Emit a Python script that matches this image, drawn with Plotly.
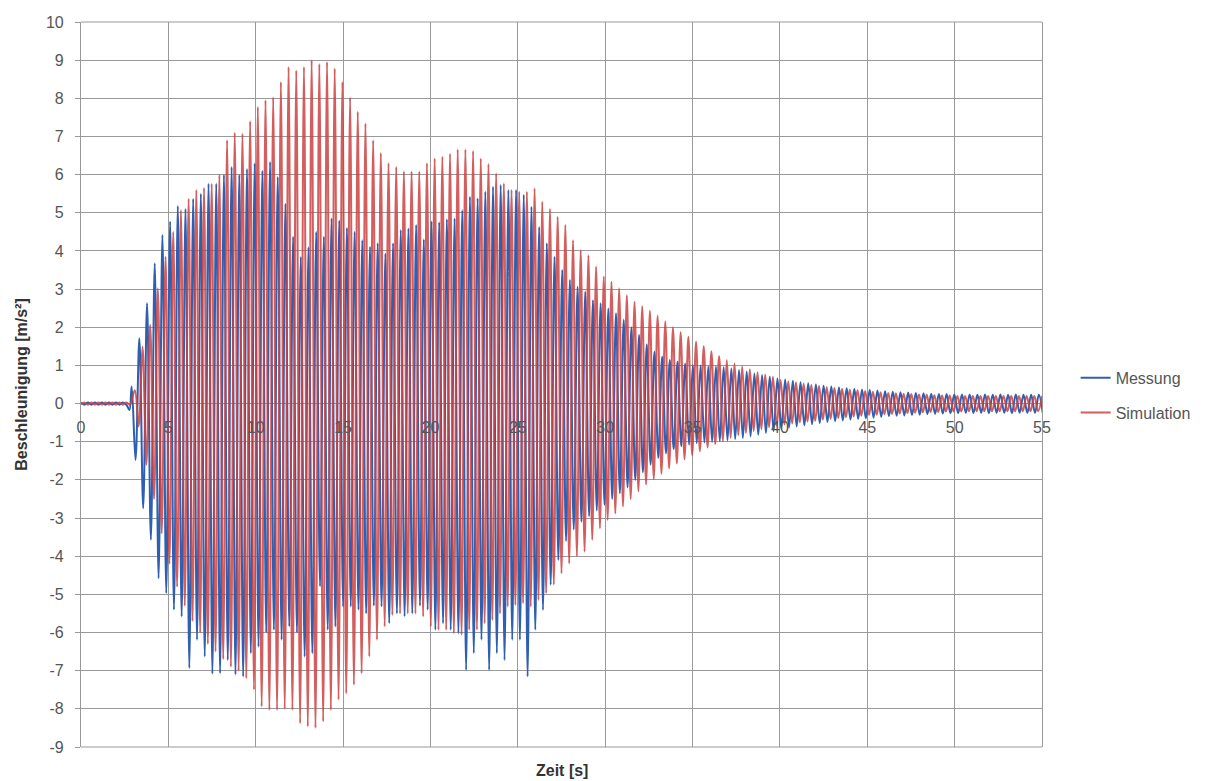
import plotly.graph_objects as go

# ---------------- data ----------------
# quiet phase before the excitation
messung_pre_t = [0.0, 0.2, 0.4, 0.6, 0.8, 1.0, 1.2, 1.4, 1.6, 1.8, 2.0, 2.2, 2.4, 2.6, 2.77]
messung_pre = [0.03, -0.03, 0.03, -0.03, 0.03, -0.03, 0.03, -0.03, 0.03, -0.03, 0.03, -0.03, 0.03, -0.03, -0.17]
simulation_pre_t = [0.0, 0.2, 0.4, 0.6, 0.8, 1.0, 1.2, 1.4, 1.6, 1.8, 2.0, 2.2, 2.4, 2.6, 2.8]
simulation_pre = [-0.02, 0.03, -0.03, 0.03, -0.03, 0.03, -0.03, 0.03, -0.03, 0.03, -0.03, 0.03, -0.03, 0.03, -0.03]

# Messung: times and values of the maxima
messung_max_t = [2.90, 3.34, 3.78, 4.22, 4.66, 5.10, 5.54, 5.98, 6.42, 6.86,
                 7.30, 7.74, 8.18, 8.62, 9.06, 9.50, 9.94, 10.38, 10.82, 11.26,
                 11.70, 12.14, 12.58, 13.02, 13.46, 13.90, 14.34, 14.78, 15.22, 15.66,
                 16.10, 16.54, 16.98, 17.42, 17.86, 18.30, 18.74, 19.18, 19.62, 20.06,
                 20.50, 20.94, 21.38, 21.82, 22.26, 22.70, 23.14, 23.58, 24.02, 24.46,
                 24.90, 25.34, 25.78, 26.22, 26.66, 27.10, 27.54, 27.98, 28.42, 28.86,
                 29.30, 29.74, 30.18, 30.62, 31.06, 31.50, 31.94, 32.38, 32.82, 33.26,
                 33.70, 34.14, 34.58, 35.02, 35.46, 35.90, 36.34, 36.78, 37.22, 37.66,
                 38.10, 38.54, 38.98, 39.42, 39.86, 40.30, 40.74, 41.18, 41.62, 42.06,
                 42.50, 42.94, 43.38, 43.82, 44.26, 44.70, 45.14, 45.58, 46.02, 46.46,
                 46.90, 47.34, 47.78, 48.22, 48.66, 49.10, 49.54, 49.98, 50.42, 50.86,
                 51.30, 51.74, 52.18, 52.62, 53.06, 53.50, 53.94, 54.38, 54.82]
messung_max = [0.45, 1.71, 2.63, 3.68, 4.42, 4.77, 5.18, 5.10, 5.37, 5.50,
               5.76, 5.76, 6.00, 6.20, 6.00, 6.15, 6.29, 6.10, 6.33, 5.94,
               5.24, 4.37, 3.84, 4.10, 4.50, 4.37, 4.85, 4.80, 4.60, 4.50,
               4.28, 4.11, 4.20, 3.93, 4.20, 4.55, 4.59, 4.68, 4.30, 4.77,
               4.75, 4.83, 4.85, 5.07, 5.42, 5.38, 5.55, 5.68, 5.73, 5.60,
               5.60, 5.47, 5.16, 4.63, 4.20, 3.85, 3.50, 3.24, 3.06, 2.93,
               2.71, 2.63, 2.49, 2.37, 2.20, 2.00, 1.80, 1.55, 1.36, 1.23,
               1.14, 1.10, 1.05, 1.01, 1.00, 0.97, 0.97, 0.95, 0.92, 0.88,
               0.84, 0.79, 0.75, 0.71, 0.66, 0.63, 0.60, 0.56, 0.53, 0.50,
               0.47, 0.45, 0.42, 0.40, 0.38, 0.37, 0.36, 0.34, 0.32, 0.31,
               0.30, 0.29, 0.28, 0.27, 0.26, 0.25, 0.25, 0.24, 0.24, 0.24,
               0.23, 0.24, 0.23, 0.24, 0.23, 0.24, 0.23, 0.23, 0.23]

# Messung: times and values of the minima
messung_min_t = [3.12, 3.56, 4.00, 4.44, 4.88, 5.32, 5.76, 6.20, 6.64, 7.08,
                 7.52, 7.96, 8.40, 8.84, 9.28, 9.72, 10.16, 10.60, 11.04, 11.48,
                 11.92, 12.36, 12.80, 13.24, 13.68, 14.12, 14.56, 15.00, 15.44, 15.88,
                 16.32, 16.76, 17.20, 17.64, 18.08, 18.52, 18.96, 19.40, 19.84, 20.28,
                 20.72, 21.16, 21.60, 22.04, 22.48, 22.92, 23.36, 23.80, 24.24, 24.68,
                 25.12, 25.56, 26.00, 26.44, 26.88, 27.32, 27.76, 28.20, 28.64, 29.08,
                 29.52, 29.96, 30.40, 30.84, 31.28, 31.72, 32.16, 32.60, 33.04, 33.48,
                 33.92, 34.36, 34.80, 35.24, 35.68, 36.12, 36.56, 37.00, 37.44, 37.88,
                 38.32, 38.76, 39.20, 39.64, 40.08, 40.52, 40.96, 41.40, 41.84, 42.28,
                 42.72, 43.16, 43.60, 44.04, 44.48, 44.92, 45.36, 45.80, 46.24, 46.68,
                 47.12, 47.56, 48.00, 48.44, 48.88, 49.32, 49.76, 50.20, 50.64, 51.08,
                 51.52, 51.96, 52.40, 52.84, 53.28, 53.72, 54.16, 54.60, 55.04]
messung_min = [-1.48, -2.74, -3.57, -4.58, -4.97, -5.40, -5.58, -6.93, -6.19, -6.63,
               -7.08, -7.07, -6.72, -7.10, -7.15, -6.54, -6.37, -6.00, -5.93, -6.19,
               -5.84, -6.00, -6.63, -6.54, -4.79, -5.93, -5.84, -5.32, -5.32, -5.40,
               -5.50, -5.30, -5.32, -5.76, -5.50, -5.58, -5.50, -5.30, -5.40, -5.93,
               -5.76, -5.93, -6.02, -6.98, -6.54, -6.19, -6.98, -6.54, -6.72, -6.19,
               -6.19, -7.15, -5.93, -5.41, -4.75, -4.10, -3.60, -3.30, -3.10, -2.95,
               -2.80, -2.65, -2.50, -2.35, -2.20, -2.00, -1.80, -1.60, -1.42, -1.30,
               -1.20, -1.12, -1.08, -1.04, -1.02, -1.00, -0.98, -0.96, -0.93, -0.90,
               -0.86, -0.82, -0.77, -0.72, -0.66, -0.63, -0.60, -0.57, -0.54, -0.51,
               -0.48, -0.46, -0.44, -0.42, -0.40, -0.39, -0.37, -0.35, -0.33, -0.32,
               -0.31, -0.30, -0.29, -0.28, -0.27, -0.26, -0.25, -0.25, -0.24, -0.25,
               -0.24, -0.25, -0.24, -0.24, -0.25, -0.24, -0.24, -0.24, -0.24]

# Simulation: times and values of the maxima
simulation_max_t = [3.08, 3.52, 3.96, 4.40, 4.84, 5.28, 5.72, 6.16, 6.60, 7.04,
                    7.48, 7.92, 8.36, 8.80, 9.24, 9.68, 10.12, 10.56, 11.00, 11.44,
                    11.88, 12.32, 12.76, 13.20, 13.64, 14.08, 14.52, 14.96, 15.40, 15.84,
                    16.28, 16.72, 17.16, 17.60, 18.04, 18.48, 18.92, 19.36, 19.80, 20.24,
                    20.68, 21.12, 21.56, 22.00, 22.44, 22.88, 23.32, 23.76, 24.20, 24.64,
                    25.08, 25.52, 25.96, 26.40, 26.84, 27.28, 27.72, 28.16, 28.60, 29.04,
                    29.48, 29.92, 30.36, 30.80, 31.24, 31.68, 32.12, 32.56, 33.00, 33.44,
                    33.88, 34.32, 34.76, 35.20, 35.64, 36.08, 36.52, 36.96, 37.40, 37.84,
                    38.28, 38.72, 39.16, 39.60, 40.04, 40.48, 40.92, 41.36, 41.80, 42.24,
                    42.68, 43.12, 43.56, 44.00, 44.44, 44.88, 45.32, 45.76, 46.20, 46.64,
                    47.08, 47.52, 47.96, 48.40, 48.84, 49.28, 49.72, 50.16, 50.60, 51.04,
                    51.48, 51.92, 52.36, 52.80, 53.24, 53.68, 54.12, 54.56, 55.00]
simulation_max = [0.35, 1.49, 2.06, 3.02, 3.85, 4.50, 5.07, 5.37, 5.60, 5.65,
                  5.76, 6.00, 6.90, 7.10, 7.07, 7.40, 7.77, 7.95, 8.03, 8.43,
                  8.82, 8.73, 8.82, 9.00, 8.90, 8.95, 8.78, 8.43, 8.02, 7.65,
                  7.34, 6.90, 6.57, 6.30, 6.20, 6.08, 6.08, 6.08, 6.30, 6.42,
                  6.47, 6.55, 6.66, 6.66, 6.62, 6.42, 6.28, 6.03, 5.77, 5.60,
                  5.55, 5.55, 5.64, 5.29, 5.10, 4.90, 4.68, 4.28, 4.02, 3.89,
                  3.59, 3.33, 3.19, 3.02, 2.84, 2.67, 2.55, 2.43, 2.30, 2.15,
                  2.00, 1.87, 1.75, 1.62, 1.50, 1.37, 1.25, 1.14, 1.05, 0.97,
                  0.90, 0.82, 0.76, 0.70, 0.62, 0.58, 0.55, 0.52, 0.49, 0.46,
                  0.43, 0.41, 0.39, 0.37, 0.35, 0.33, 0.31, 0.30, 0.28, 0.27,
                  0.26, 0.25, 0.24, 0.23, 0.22, 0.21, 0.21, 0.20, 0.20, 0.20,
                  0.20, 0.20, 0.20, 0.20, 0.20, 0.20, 0.20, 0.20, 0.20]

# Simulation: times and values of the minima
simulation_min_t = [3.30, 3.74, 4.18, 4.62, 5.06, 5.50, 5.94, 6.38, 6.82, 7.26,
                    7.70, 8.14, 8.58, 9.02, 9.46, 9.90, 10.34, 10.78, 11.22, 11.66,
                    12.10, 12.54, 12.98, 13.42, 13.86, 14.30, 14.74, 15.18, 15.62, 16.06,
                    16.50, 16.94, 17.38, 17.82, 18.26, 18.70, 19.14, 19.58, 20.02, 20.46,
                    20.90, 21.34, 21.78, 22.22, 22.66, 23.10, 23.54, 23.98, 24.42, 24.86,
                    25.30, 25.74, 26.18, 26.62, 27.06, 27.50, 27.94, 28.38, 28.82, 29.26,
                    29.70, 30.14, 30.58, 31.02, 31.46, 31.90, 32.34, 32.78, 33.22, 33.66,
                    34.10, 34.54, 34.98, 35.42, 35.86, 36.30, 36.74, 37.18, 37.62, 38.06,
                    38.50, 38.94, 39.38, 39.82, 40.26, 40.70, 41.14, 41.58, 42.02, 42.46,
                    42.90, 43.34, 43.78, 44.22, 44.66, 45.10, 45.54, 45.98, 46.42, 46.86,
                    47.30, 47.74, 48.18, 48.62, 49.06, 49.50, 49.94, 50.38, 50.82, 51.26,
                    51.70, 52.14, 52.58, 53.02, 53.46, 53.90, 54.34, 54.78]
simulation_min = [-0.60, -1.60, -2.50, -3.40, -4.20, -4.80, -5.30, -5.70, -6.00, -6.30,
                  -6.50, -6.70, -6.90, -7.00, -7.20, -7.50, -7.94, -8.03, -8.03, -8.00,
                  -8.03, -8.38, -8.46, -8.50, -8.33, -8.03, -7.76, -7.60, -7.37, -7.07,
                  -6.63, -6.19, -5.84, -5.54, -5.50, -5.50, -5.50, -5.58, -5.84, -5.93,
                  -5.93, -6.02, -6.06, -5.93, -5.93, -5.76, -5.67, -5.50, -5.32, -5.28,
                  -5.23, -5.32, -5.15, -4.97, -4.75, -4.45, -4.19, -4.00, -3.88, -3.57,
                  -3.27, -3.05, -2.88, -2.70, -2.50, -2.30, -2.12, -1.98, -1.84, -1.70,
                  -1.57, -1.46, -1.35, -1.25, -1.15, -1.06, -0.98, -0.90, -0.83, -0.77,
                  -0.72, -0.67, -0.62, -0.58, -0.55, -0.52, -0.49, -0.47, -0.45, -0.42,
                  -0.40, -0.38, -0.36, -0.34, -0.32, -0.30, -0.29, -0.28, -0.27, -0.26,
                  -0.25, -0.24, -0.23, -0.22, -0.22, -0.21, -0.21, -0.21, -0.20, -0.20,
                  -0.20, -0.20, -0.20, -0.20, -0.20, -0.20, -0.20, -0.20]

x_ticks = [0, 5, 10, 15, 20, 25, 30, 35, 40, 45, 50, 55]
y_ticks = [-9, -8, -7, -6, -5, -4, -3, -2, -1, 0, 1, 2, 3, 4, 5, 6, 7, 8, 9, 10]


def build(pre_t, pre_v, max_t, max_v, min_t, min_v):
    pts = list(zip(pre_t, pre_v)) + sorted(list(zip(max_t, max_v)) + list(zip(min_t, min_v)))
    return [p[0] for p in pts], [p[1] for p in pts]


mx, my = build(messung_pre_t, messung_pre, messung_max_t, messung_max, messung_min_t, messung_min)
sx, sy = build(simulation_pre_t, simulation_pre, simulation_max_t, simulation_max,
               simulation_min_t, simulation_min)

FONT = "Liberation Sans"
GRID = "#9a9a9a"
TXT = "#555555"

fig = go.Figure()
fig.add_trace(go.Scatter(x=mx, y=my, mode="lines", name="Messung",
                         line=dict(color="#2e5fb0", width=2.0, shape="spline", smoothing=1.0),
                         legendgroup="a"))
fig.add_trace(go.Scatter(x=sx, y=sy, mode="lines", name="Simulation",
                         line=dict(color="rgba(205,65,65,0.85)", width=2.0, shape="spline", smoothing=1.0),
                         legendgroup="b"))

fig.update_layout(
    width=1219, height=781,
    margin=dict(l=81, r=177, t=22, b=34),
    paper_bgcolor="white", plot_bgcolor="white",
    font=dict(family=FONT, size=16, color=TXT),
    showlegend=True,
    legend=dict(x=1.035, y=0.485, xanchor="left", yanchor="middle",
                font=dict(family=FONT, size=16, color=TXT),
                traceorder="grouped", tracegroupgap=11,
                bgcolor="rgba(0,0,0,0)"),
    xaxis=dict(range=[0, 55], tickvals=x_ticks, ticktext=[str(v) for v in x_ticks],
               showgrid=True, gridcolor=GRID, gridwidth=1.2, zeroline=False,
               showline=False, ticks="", anchor="free", position=9 / 19,
               ticklabelstandoff=12,
               tickfont=dict(family=FONT, size=16, color=TXT)),
    yaxis=dict(range=[-9, 10], tickvals=y_ticks, ticktext=[str(v) for v in y_ticks],
               showgrid=True, gridcolor=GRID, gridwidth=1.2, zeroline=False,
               showline=True, linecolor=GRID, linewidth=1.2, mirror=True,
               ticks="outside", ticklen=5, tickcolor=GRID, ticklabelstandoff=8,
               tickfont=dict(family=FONT, size=16, color=TXT),
               title=dict(text="<b>Beschleunigung [m/s²]</b>", standoff=14,
                          font=dict(family=FONT, size=16, color="#333333"))),
    annotations=[dict(text="<b>Zeit [s]</b>", xref="paper", yref="paper", x=0.5, y=0,
                      xanchor="center", yanchor="top", yshift=-13, showarrow=False,
                      font=dict(family=FONT, size=16, color="#333333"))],
    shapes=[dict(type="line", xref="paper", yref="paper", x0=0, x1=1, y0=0, y1=0,
                 line=dict(color=GRID, width=1.2)),
            dict(type="line", xref="paper", yref="paper", x0=0, x1=1, y0=1, y1=1,
                 line=dict(color=GRID, width=1.2))],
)

fig.write_html("out.html")
